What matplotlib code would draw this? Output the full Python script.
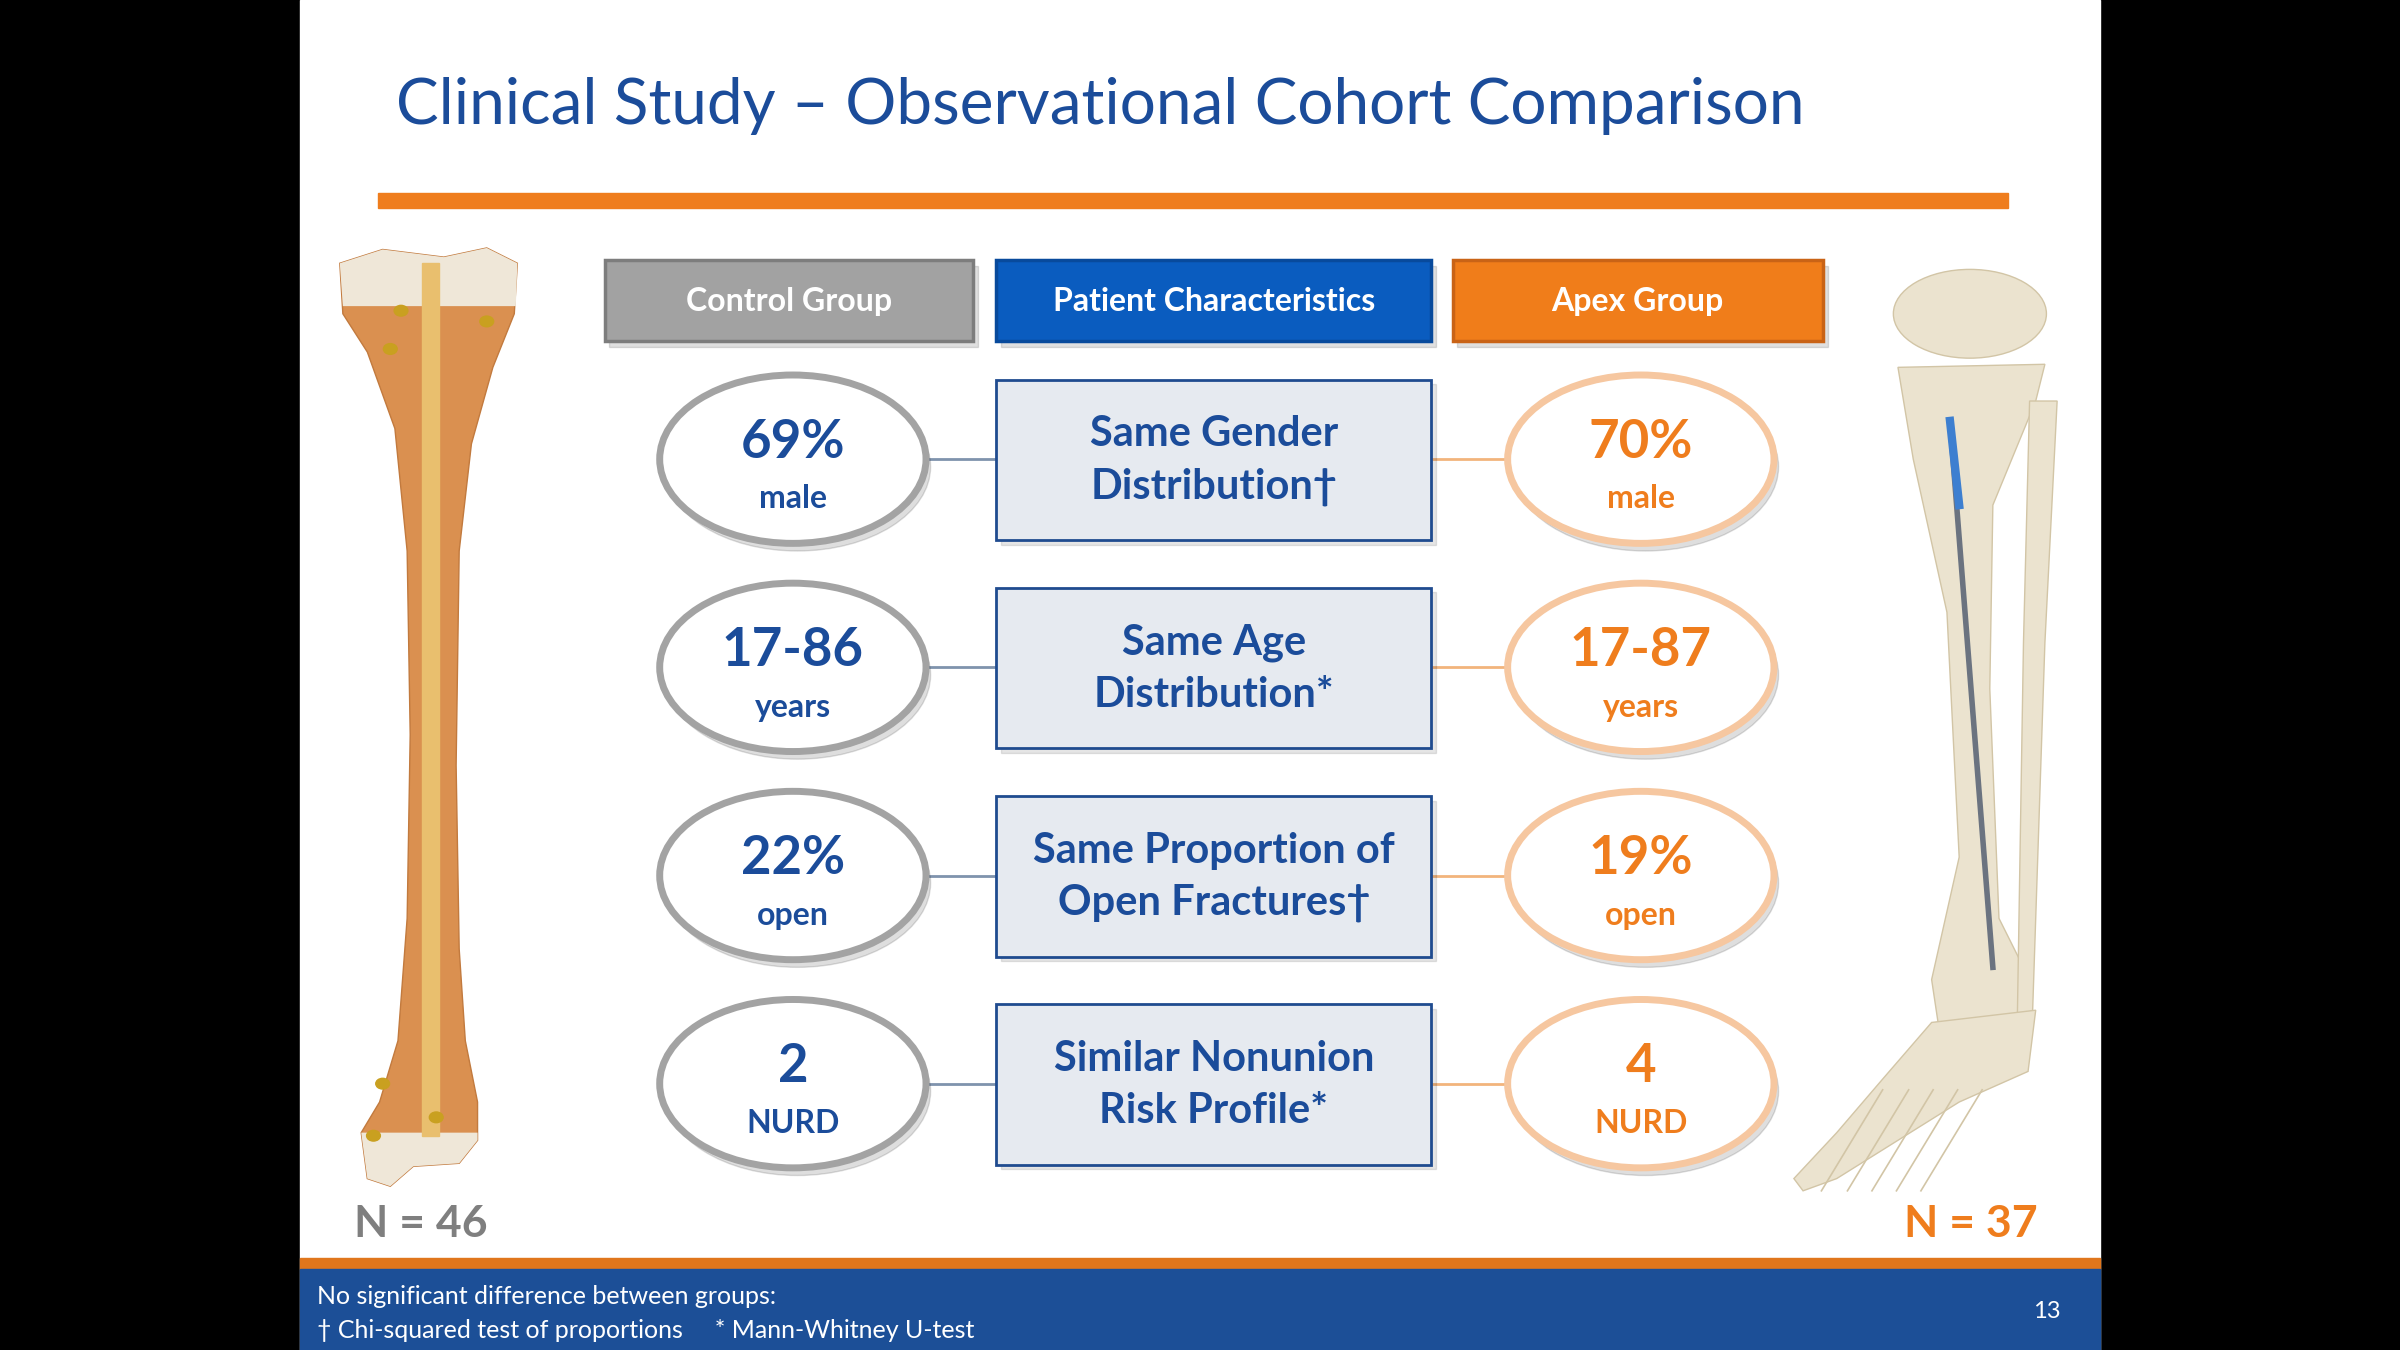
import matplotlib
matplotlib.use("Agg")
import matplotlib.pyplot as plt
from matplotlib.patches import Rectangle, Ellipse, Polygon

plt.rcParams['font.family'] = ['Lato', 'DejaVu Sans']

# chart content
title = "Clinical Study \u2013 Observational Cohort Comparison"
headers = ["Control Group", "Patient Characteristics", "Apex Group"]
characteristics = ["Same Gender\nDistribution\u2020", "Same Age\nDistribution*",
                   "Same Proportion of\nOpen Fractures\u2020", "Similar Nonunion\nRisk Profile*"]
control_values = ["69%", "17-86", "22%", "2"]
control_units = ["male", "years", "open", "NURD"]
apex_values = ["70%", "17-87", "19%", "4"]
apex_units = ["male", "years", "open", "NURD"]
control_n = 46
apex_n = 37
footnote_1 = "No significant difference between groups:"
footnote_2 = "\u2020 Chi-squared test of proportions     * Mann-Whitney U-test"
page_number = "13"

BLUE = "#1b4c9a"
ORANGE = "#ef7d1d"
GRAY = "#a3a3a3"

# work in a 1568 x 882 layout space, saved at 2400 x 1350
W, H = 1568, 882
fig = plt.figure(figsize=(24, 13.5), dpi=100)
ax = fig.add_axes([0, 0, 1, 1])
ax.set_xlim(0, W)
ax.set_ylim(H, 0)
ax.axis("off")
fig.patch.set_facecolor("black")

# slide background
ax.add_patch(Rectangle((196, 0), 1176, H, color="white", zorder=0))

ax.text(259, 69, title, fontsize=46, color=BLUE, va="center", ha="left")
ax.add_patch(Rectangle((247, 126), 1065, 10, color=ORANGE, zorder=1))

# header boxes
hx = [(395, 636, "#a2a2a2", "#7d7d7d"), (651, 935, "#0a5cbf", "#084a9c"),
      (949, 1191, "#f07d1a", "#c96316")]
for (x0, x1, fc, ec), lab in zip(hx, headers):
    ax.add_patch(Rectangle((x0 + 3, 174), x1 - x0, 53, color="#000000", alpha=0.12, zorder=1))
    ax.add_patch(Rectangle((x0, 170), x1 - x0, 53, facecolor=fc, edgecolor=ec, lw=2.5, zorder=2))
    ax.text((x0 + x1) / 2, 197, lab, fontsize=23, color="white", fontweight="bold",
            ha="center", va="center", zorder=3)

# rows
row_y0 = 300
row_step = 136
lx, rx = 518, 1072
ew, eh = 174, 110
for i, (ch, cv, cu, av, au) in enumerate(zip(characteristics, control_values, control_units,
                                              apex_values, apex_units)):
    cy = row_y0 + row_step * i
    # connectors
    ax.plot([lx + ew / 2, 651], [cy, cy], color="#7f93ad", lw=2, zorder=1)
    ax.plot([935, rx - ew / 2], [cy, cy], color="#f2b47c", lw=2, zorder=1)
    # center box
    ax.add_patch(Rectangle((654, cy - 49), 284, 105, color="#000000", alpha=0.10, zorder=1))
    ax.add_patch(Rectangle((651, cy - 52), 284, 105, facecolor="#e6eaf0", edgecolor="#1f4b8f",
                           lw=2, zorder=2))
    ax.text(793, cy + 1, ch, fontsize=30, color=BLUE, fontweight="bold", ha="center",
            va="center", linespacing=1.45, zorder=3)
    # ellipses
    for x, val, unit, ec, tc in [(lx, cv, cu, GRAY, BLUE), (rx, av, au, "#f6c7a0", ORANGE)]:
        ax.add_patch(Ellipse((x + 3, cy + 5), ew, eh, color="#000000", alpha=0.13, zorder=1))
        ax.add_patch(Ellipse((x, cy), ew, eh, facecolor="white", edgecolor=ec, lw=5, zorder=2))
        ax.text(x, cy - 11, val, fontsize=38, color=tc, fontweight="bold", ha="center",
                va="center", zorder=3)
        ax.text(x, cy + 26, unit, fontsize=23, color=tc, fontweight="bold", ha="center",
                va="center", zorder=3)

# left tibia illustration
tibia = [(222, 172), (250, 163), (290, 168), (318, 162), (338, 172), (336, 205), (322, 240),
         (308, 290), (300, 360), (298, 500), (300, 620), (304, 680), (312, 720), (312, 745),
         (300, 760), (270, 762), (255, 775), (240, 770), (236, 740), (248, 720), (260, 680),
         (266, 600), (268, 480), (266, 360), (258, 280), (240, 230), (224, 205)]
ax.add_patch(Polygon(tibia, closed=True, facecolor="#da9050", edgecolor="#c27a3e", lw=1, zorder=2))
ax.add_patch(Polygon([(222, 172), (250, 163), (290, 168), (318, 162), (338, 172), (337, 200),
                      (224, 200)], closed=True, facecolor="#efe7d8", edgecolor="none", zorder=3))
ax.add_patch(Polygon([(312, 740), (312, 745), (300, 760), (270, 762), (255, 775), (240, 770),
                      (236, 740)], closed=True, facecolor="#efe7d8", edgecolor="none", zorder=3))
ax.add_patch(Rectangle((276, 172), 11, 570, color="#e9bf6e", zorder=4))
for sx, sy in [(262, 203), (318, 210), (255, 228), (250, 708), (285, 730), (244, 742)]:
    ax.add_patch(Ellipse((sx, sy), 9, 7, color="#c9a020", zorder=5))

# right leg illustration
bone = "#ebe3cf"
edge = "#d2c5a6"
ax.add_patch(Ellipse((1287, 205), 100, 58, facecolor=bone, edgecolor=edge, zorder=2))
ax.add_patch(Polygon([(1240, 240), (1336, 238), (1330, 262), (1302, 330), (1300, 450),
                      (1306, 600), (1326, 640), (1322, 672), (1268, 680), (1262, 640),
                      (1280, 560), (1272, 400), (1250, 300)], closed=True,
                     facecolor=bone, edgecolor=edge, zorder=2))
ax.add_patch(Polygon([(1326, 262), (1344, 262), (1336, 420), (1328, 660), (1318, 665),
                      (1322, 420)], closed=True, facecolor=bone, edgecolor=edge, zorder=2))
ax.add_patch(Polygon([(1262, 668), (1330, 660), (1325, 700), (1280, 720), (1240, 745),
                      (1200, 770), (1178, 778), (1172, 770), (1200, 740), (1230, 705)],
                     closed=True, facecolor=bone, edgecolor=edge, zorder=2))
for tx in [1195, 1212, 1228, 1244, 1260]:
    ax.plot([tx + 35, tx - 5], [712, 778], color=edge, lw=1.2, zorder=3)
ax.plot([1274, 1302], [275, 632], color="#6b7380", lw=4, zorder=3)
ax.plot([1274, 1280], [275, 330], color="#3d7fd0", lw=6, zorder=4)

ax.text(231, 800, f"N = {control_n}", fontsize=32, color="#7f7f7f", fontweight="bold",
        ha="left", va="center")
ax.text(1331, 800, f"N = {apex_n}", fontsize=32, color=ORANGE, fontweight="bold",
        ha="right", va="center")

# footer band
ax.add_patch(Rectangle((196, 822), 1176, 7, color="#e0761c", zorder=1))
ax.add_patch(Rectangle((196, 829), 1176, H - 829, color="#1c4f97", zorder=1))
ax.text(207, 847, footnote_1, fontsize=18, color="white", ha="left", va="center", zorder=2)
ax.text(207, 869, footnote_2, fontsize=18, color="white", ha="left", va="center", zorder=2)
ax.text(1337, 857, page_number, fontsize=17, color="white", ha="center", va="center", zorder=2)

fig.savefig("out.png", dpi=100, facecolor="black")
